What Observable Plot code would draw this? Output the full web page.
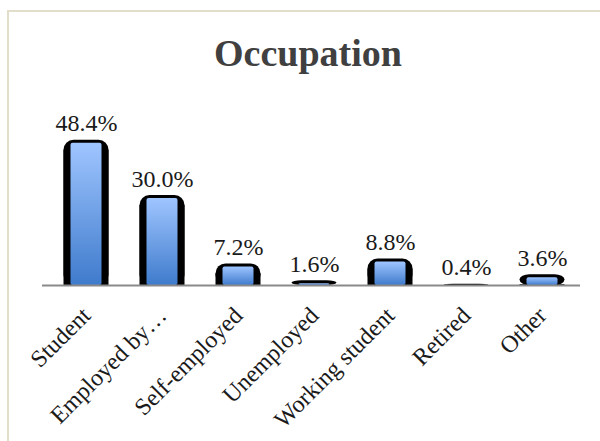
<!DOCTYPE html>
<html>
<head>
<meta charset="utf-8">
<script src="https://cdn.jsdelivr.net/npm/d3@7"></script>
<script src="https://cdn.jsdelivr.net/npm/@observablehq/plot@0.6"></script>
<style>
  html, body { margin: 0; padding: 0; background: #fff; }
  #wrap { position: relative; width: 600px; height: 441px; overflow: hidden; }
  #frame { position: absolute; left: 7px; top: 10px; width: 640px; height: 480px; border: 2px solid #e2dec9; box-sizing: border-box; }
  #title { position: absolute; left: 0; width: 616px; top: 31px; text-align: center; font-family: "Liberation Serif", serif; font-weight: bold; font-size: 38px; line-height: normal; color: #404040; }
  #chart { position: absolute; left: 0; top: 0; }
  #chart svg, #chart svg text { font-family: "Liberation Serif", serif !important; }
  #chart svg g[aria-label="x-axis tick label"] { font-size: 24px !important; }
  #chart svg g[aria-label="text"] { font-size: 24px !important; }
</style>
</head>
<body>
<div id="wrap">
  <div id="frame"></div>
  <div id="chart"></div>
  <div id="title">Occupation</div>
</div>
<script>
const categories = ["Student", "Employed by…", "Self-employed", "Unemployed", "Working student", "Retired", "Other"];
const values = [48.4, 30.0, 7.2, 1.6, 8.8, 0.4, 3.6];

const data = categories.map((c, i) => ({category: c, value: values[i]}));

const defs = () => {
  const d = d3.create("svg:defs");
  const g = d.append("linearGradient").attr("id", "barGrad").attr("x1", 0).attr("y1", 0).attr("x2", 0).attr("y2", 1);
  g.append("stop").attr("offset", "0%").attr("stop-color", "#9fc5ff");
  g.append("stop").attr("offset", "100%").attr("stop-color", "#3f7bcc");
  return d.node();
};

const chart = Plot.plot({
  width: 600,
  height: 441,
  marginLeft: 48,
  marginRight: 20,
  marginTop: 135,
  marginBottom: 156,
  x: {domain: categories, padding: 0, label: null},
  y: {domain: [0, 50], axis: null},
  style: {background: "transparent"},
  marks: [
    defs,
    Plot.barY(data, {x: "category", y: "value", fill: "black", insetLeft: 15.5, insetRight: 15.5, rx: 10}),
    Plot.barY(data, {x: "category", y: "value", fill: "black", insetLeft: 15.5, insetRight: 15.5, insetTop: 10}),
    Plot.barY(data, {x: "category", y: "value", fill: "url(#barGrad)", insetLeft: 22.5, insetRight: 22.5, insetTop: 3, rx: 2}),
    Plot.ruleY([0], {stroke: "#8a8a8a", strokeWidth: 2, insetLeft: -6}),
    Plot.text(data, {x: "category", y: "value", text: d => d.value.toFixed(1) + "%", lineAnchor: "bottom", dy: -9, fontSize: 24, fill: "#1a1a1a"}),
    Plot.axisX({tickRotate: -45, tickSize: 0, tickPadding: 26, fontSize: 24, fill: "#1a1a1a", label: null})
  ]
});
document.getElementById("chart").appendChild(chart);
</script>
</body>
</html>
